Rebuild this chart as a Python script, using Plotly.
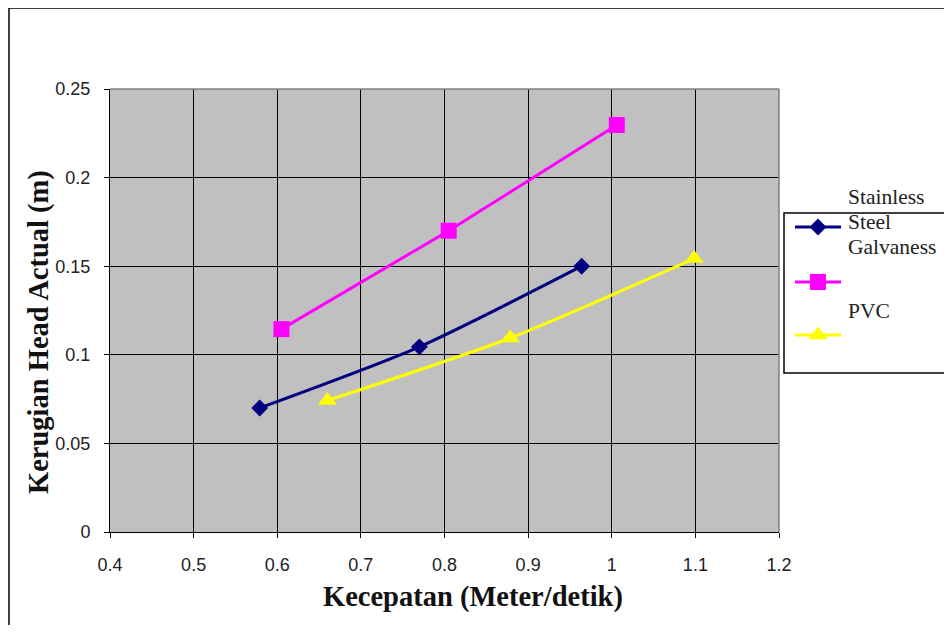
import plotly.graph_objects as go

# ---- data ----
series_names = ["Stainless Steel", "Galvaness", "PVC"]
ss_x = [0.579, 0.770, 0.964]
ss_y = [0.070, 0.1045, 0.150]
gal_x = [0.605, 0.805, 1.006]
gal_y = [0.1145, 0.170, 0.2297]
pvc_x = [0.660, 0.8785, 1.0985]
pvc_y = [0.0742, 0.1095, 0.1543]

x_ticks = [0.4, 0.5, 0.6, 0.7, 0.8, 0.9, 1.0, 1.1, 1.2]
y_ticks = [0, 0.05, 0.1, 0.15, 0.2, 0.25]

colors = ["#000080", "#FF00FF", "#FFFF00"]
symbols = ["diamond", "square", "triangle-up"]
msizes = [13, 16, 17]

OFF = 8                      # page body margin
W, H = 952 - 2 * OFF, 633 - 2 * OFF
# reference-pixel layout of the plot area
REF_L, REF_R, REF_T, REF_B = 110, 779, 89, 532
L = REF_L - OFF
T = REF_T - OFF
B = H - (REF_B - OFF)
PW = W - L
PH = H - T - B


def px(xr):
    return (xr - OFF - L) / PW


def py(yr):
    return (H - B - (yr - OFF)) / PH


fig = go.Figure()

data = [(ss_x, ss_y), (gal_x, gal_y), (pvc_x, pvc_y)]
shapes_line = ["spline", "linear", "spline"]
for i, (xs, ys) in enumerate(data):
    fig.add_trace(go.Scatter(
        x=xs, y=ys, mode="lines+markers", name=series_names[i],
        line=dict(color=colors[i], width=3, shape=shapes_line[i], smoothing=0.7),
        marker=dict(symbol=symbols[i], size=msizes[i], color=colors[i],
                    line=dict(width=0)),
        xaxis="x", yaxis="y", showlegend=False, cliponaxis=False,
    ))

# ---- custom legend (helper axes in reference-pixel units) ----
leg_y = [227, 282, 335]
for i in range(3):
    fig.add_trace(go.Scatter(
        x=[795, 841], y=[leg_y[i], leg_y[i]], mode="lines",
        line=dict(color=colors[i], width=3), xaxis="x2", yaxis="y2",
        showlegend=False, hoverinfo="skip", cliponaxis=False))
    fig.add_trace(go.Scatter(
        x=[818], y=[leg_y[i]], mode="markers",
        marker=dict(symbol=symbols[i], size=msizes[i], color=colors[i], line=dict(width=0)),
        xaxis="x2", yaxis="y2", showlegend=False, hoverinfo="skip", cliponaxis=False))

tickfont = dict(family="Liberation Sans, Arial, sans-serif", size=18, color="#222222")

fig.update_layout(
    width=W, height=H,
    margin=dict(l=L, r=0, t=T, b=B, pad=0, autoexpand=False),
    paper_bgcolor="white",
    plot_bgcolor="rgba(0,0,0,0)",
    xaxis=dict(
        domain=[0, (REF_R - REF_L) / PW], range=[0.4, 1.2],
        tickvals=x_ticks, ticktext=[("%g" % v) for v in x_ticks],
        showgrid=True, gridcolor="black", gridwidth=1,
        showline=True, linecolor="black", linewidth=1,
        ticks="outside", ticklen=5, tickcolor="black", tickwidth=1,
        tickfont=tickfont, ticklabelstandoff=11, zeroline=False, fixedrange=True,
        anchor="y", automargin=False,
    ),
    yaxis=dict(
        domain=[0, 1], range=[0, 0.25],
        tickvals=y_ticks, ticktext=[("%g" % v) for v in y_ticks],
        showgrid=True, gridcolor="black", gridwidth=1,
        showline=True, linecolor="black", linewidth=1,
        ticks="outside", ticklen=5, tickcolor="black", tickwidth=1,
        tickfont=tickfont, ticklabelstandoff=10, zeroline=False, fixedrange=True,
        anchor="x", automargin=False,
    ),
    xaxis2=dict(domain=[px(784), 1], range=[784, 952 - OFF], visible=False,
                anchor="y2", fixedrange=True),
    yaxis2=dict(domain=[0, 1], range=[REF_B, REF_T], visible=False,
                anchor="x2", fixedrange=True),
    font=dict(family="Liberation Serif, Times New Roman, serif", color="#111111"),
)

shapes = [
    dict(type="rect", xref="x domain", yref="y domain", x0=0, x1=1, y0=0, y1=1,
         fillcolor="#C0C0C0", line=dict(width=0), layer="below"),
    dict(type="line", xref="x domain", yref="y domain", x0=0, x1=1, y0=1, y1=1,
         line=dict(color="#808080", width=1.5), layer="above"),
    dict(type="line", xref="x domain", yref="y domain", x0=1, x1=1, y0=0, y1=1,
         line=dict(color="#808080", width=1.5), layer="above"),
    dict(type="rect", xref="paper", yref="paper",
         x0=px(9), x1=px(990), y0=py(660), y1=py(8),
         line=dict(color="black", width=1.5), fillcolor="rgba(0,0,0,0)"),
    dict(type="rect", xref="paper", yref="paper",
         x0=px(784), x1=px(990), y0=py(373), y1=py(213),
         line=dict(color="black", width=1.5), fillcolor="white", layer="below"),
]
fig.update_layout(shapes=shapes)

legfont = dict(family="Liberation Serif, Times New Roman, serif", size=21.5, color="#222222")
leg_text = [("Stainless", 197), ("Steel", 222), ("Galvaness", 247), ("PVC", 311)]
annotations = []
for txt, yy in leg_text:
    annotations.append(dict(text=txt, xref="paper", yref="paper", x=px(846), y=py(yy),
                            xanchor="left", yanchor="middle", showarrow=False, font=legfont))

titlefont = dict(family="Liberation Serif, Times New Roman, serif", size=28.5, color="#111111")
annotations.append(dict(text="<b>Kecepatan (Meter/detik)</b>", xref="paper", yref="paper",
                        x=px(473), y=py(597), xanchor="center", yanchor="middle",
                        showarrow=False, font=titlefont))
annotations.append(dict(text="<b>Kerugian Head Actual (m)</b>", xref="paper", yref="paper",
                        x=px(39), y=py(332), xanchor="center", yanchor="middle",
                        textangle=-90, showarrow=False, font=titlefont))
fig.update_layout(annotations=annotations)

fig.write_html("out.html")
